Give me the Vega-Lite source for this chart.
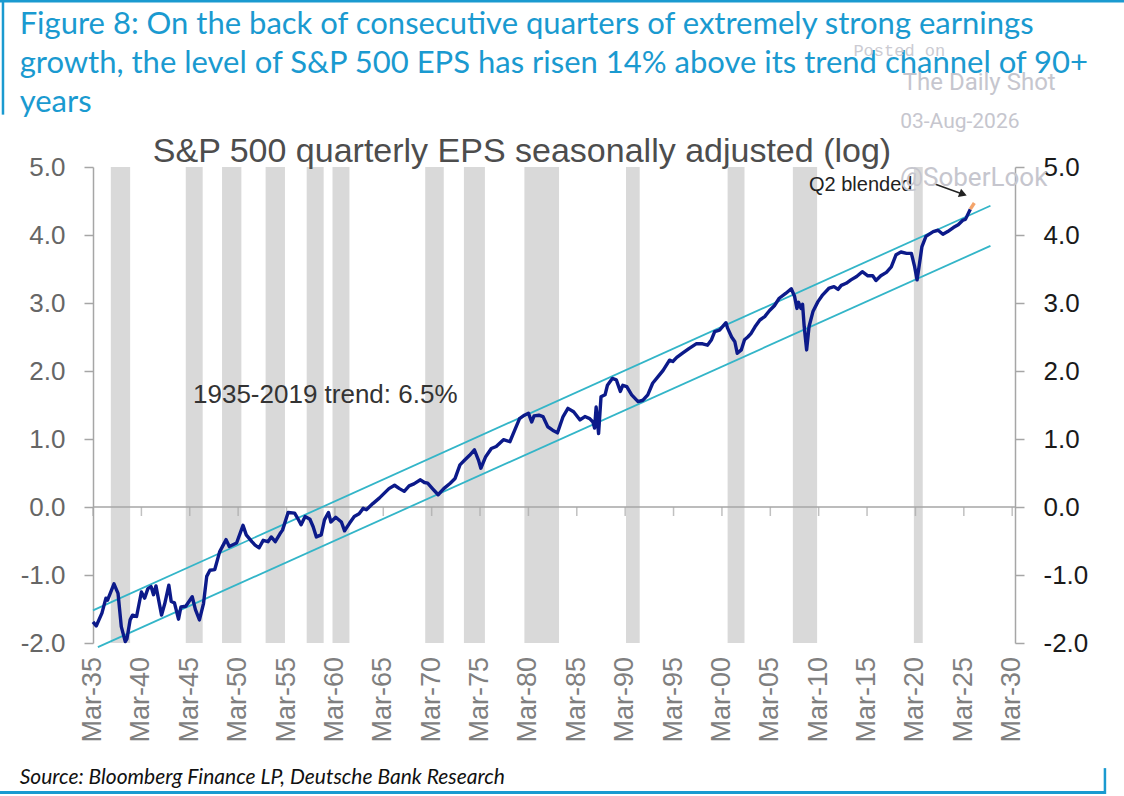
{
  "$schema": "https://vega.github.io/schema/vega-lite/v6.json",
  "width": 922,
  "height": 476,
  "autosize": "none",
  "padding": {"left": 93, "top": 167, "right": 109, "bottom": 153},
  "background": "white",
  "config": {"view": {"stroke": null}, "font": "Liberation Sans"},
  "datasets": {
    "recessions": [
      {"start": "1937-01-01", "end": "1939-01-01"},
      {"start": "1944-10-01", "end": "1946-07-01"},
      {"start": "1948-07-01", "end": "1950-07-01"},
      {"start": "1953-01-01", "end": "1955-01-01"},
      {"start": "1957-04-01", "end": "1959-01-01"},
      {"start": "1959-12-01", "end": "1961-09-01"},
      {"start": "1969-07-01", "end": "1971-06-01"},
      {"start": "1973-07-01", "end": "1975-09-01"},
      {"start": "1979-10-01", "end": "1983-05-01"},
      {"start": "1990-04-01", "end": "1991-09-01"},
      {"start": "2000-10-01", "end": "2002-07-01"},
      {"start": "2007-07-01", "end": "2010-01-01"},
      {"start": "2020-01-01", "end": "2020-12-01"}
    ],
    "xticks": [
      {"date": "1935-03-01", "label": "Mar-35"}, {"date": "1940-03-01", "label": "Mar-40"},
      {"date": "1945-03-01", "label": "Mar-45"}, {"date": "1950-03-01", "label": "Mar-50"},
      {"date": "1955-03-01", "label": "Mar-55"}, {"date": "1960-03-01", "label": "Mar-60"},
      {"date": "1965-03-01", "label": "Mar-65"}, {"date": "1970-03-01", "label": "Mar-70"},
      {"date": "1975-03-01", "label": "Mar-75"}, {"date": "1980-03-01", "label": "Mar-80"},
      {"date": "1985-03-01", "label": "Mar-85"}, {"date": "1990-03-01", "label": "Mar-90"},
      {"date": "1995-03-01", "label": "Mar-95"}, {"date": "2000-03-01", "label": "Mar-00"},
      {"date": "2005-03-01", "label": "Mar-05"}, {"date": "2010-03-01", "label": "Mar-10"},
      {"date": "2015-03-01", "label": "Mar-15"}, {"date": "2020-03-01", "label": "Mar-20"},
      {"date": "2025-03-01", "label": "Mar-25"}, {"date": "2030-03-01", "label": "Mar-30"}
    ],
    "trend": [
      {"date": "1935-03-01", "value": -1.52, "band": "upper"},
      {"date": "2027-12-01", "value": 4.43, "band": "upper"},
      {"date": "1935-09-01", "value": -2.06, "band": "lower"},
      {"date": "2027-12-01", "value": 3.84, "band": "lower"}
    ],
    "eps": [
      {"date": "1935-03-01", "value": -1.69},
      {"date": "1935-07-01", "value": -1.75},
      {"date": "1936-02-01", "value": -1.56},
      {"date": "1936-07-01", "value": -1.34},
      {"date": "1936-09-01", "value": -1.37},
      {"date": "1937-05-01", "value": -1.13},
      {"date": "1937-10-01", "value": -1.27},
      {"date": "1938-02-01", "value": -1.76},
      {"date": "1938-07-01", "value": -1.98},
      {"date": "1938-09-01", "value": -1.94},
      {"date": "1939-01-01", "value": -1.66},
      {"date": "1939-04-01", "value": -1.59},
      {"date": "1939-09-01", "value": -1.61},
      {"date": "1940-03-01", "value": -1.25},
      {"date": "1940-07-01", "value": -1.34},
      {"date": "1940-11-01", "value": -1.2},
      {"date": "1941-03-01", "value": -1.17},
      {"date": "1941-06-01", "value": -1.29},
      {"date": "1941-09-01", "value": -1.16},
      {"date": "1942-04-01", "value": -1.59},
      {"date": "1942-08-01", "value": -1.42},
      {"date": "1943-01-01", "value": -1.15},
      {"date": "1943-04-01", "value": -1.39},
      {"date": "1943-08-01", "value": -1.41},
      {"date": "1944-01-01", "value": -1.65},
      {"date": "1944-04-01", "value": -1.47},
      {"date": "1944-10-01", "value": -1.46},
      {"date": "1945-06-01", "value": -1.32},
      {"date": "1945-10-01", "value": -1.51},
      {"date": "1946-03-01", "value": -1.66},
      {"date": "1946-08-01", "value": -1.42},
      {"date": "1946-12-01", "value": -1.02},
      {"date": "1947-04-01", "value": -0.93},
      {"date": "1947-10-01", "value": -0.92},
      {"date": "1948-04-01", "value": -0.66},
      {"date": "1948-12-01", "value": -0.48},
      {"date": "1949-04-01", "value": -0.58},
      {"date": "1950-01-01", "value": -0.53},
      {"date": "1950-09-01", "value": -0.27},
      {"date": "1951-01-01", "value": -0.41},
      {"date": "1951-08-01", "value": -0.51},
      {"date": "1951-12-01", "value": -0.56},
      {"date": "1952-05-01", "value": -0.6},
      {"date": "1952-10-01", "value": -0.49},
      {"date": "1953-04-01", "value": -0.51},
      {"date": "1953-08-01", "value": -0.44},
      {"date": "1954-01-01", "value": -0.51},
      {"date": "1954-07-01", "value": -0.39},
      {"date": "1954-10-01", "value": -0.34},
      {"date": "1955-05-01", "value": -0.08},
      {"date": "1956-01-01", "value": -0.09},
      {"date": "1956-05-01", "value": -0.17},
      {"date": "1956-09-01", "value": -0.26},
      {"date": "1957-02-01", "value": -0.14},
      {"date": "1957-08-01", "value": -0.18},
      {"date": "1957-12-01", "value": -0.29},
      {"date": "1958-04-01", "value": -0.44},
      {"date": "1958-10-01", "value": -0.41},
      {"date": "1959-02-01", "value": -0.19},
      {"date": "1959-07-01", "value": -0.08},
      {"date": "1959-10-01", "value": -0.22},
      {"date": "1960-04-01", "value": -0.15},
      {"date": "1960-11-01", "value": -0.22},
      {"date": "1961-03-01", "value": -0.35},
      {"date": "1961-09-01", "value": -0.24},
      {"date": "1962-03-01", "value": -0.14},
      {"date": "1962-09-01", "value": -0.1},
      {"date": "1963-02-01", "value": -0.02},
      {"date": "1963-06-01", "value": -0.04},
      {"date": "1964-02-01", "value": 0.05},
      {"date": "1964-10-01", "value": 0.13},
      {"date": "1965-04-01", "value": 0.2},
      {"date": "1965-10-01", "value": 0.27},
      {"date": "1966-05-01", "value": 0.32},
      {"date": "1966-11-01", "value": 0.27},
      {"date": "1967-05-01", "value": 0.23},
      {"date": "1967-11-01", "value": 0.31},
      {"date": "1968-05-01", "value": 0.34},
      {"date": "1969-01-01", "value": 0.4},
      {"date": "1969-06-01", "value": 0.36},
      {"date": "1969-10-01", "value": 0.35},
      {"date": "1970-04-01", "value": 0.27},
      {"date": "1970-11-01", "value": 0.18},
      {"date": "1971-06-01", "value": 0.27},
      {"date": "1972-02-01", "value": 0.35},
      {"date": "1972-08-01", "value": 0.42},
      {"date": "1973-02-01", "value": 0.62},
      {"date": "1973-08-01", "value": 0.69},
      {"date": "1974-02-01", "value": 0.76},
      {"date": "1974-08-01", "value": 0.84},
      {"date": "1975-01-01", "value": 0.69},
      {"date": "1975-04-01", "value": 0.57},
      {"date": "1975-10-01", "value": 0.74},
      {"date": "1976-05-01", "value": 0.86},
      {"date": "1976-11-01", "value": 0.89},
      {"date": "1977-08-01", "value": 0.99},
      {"date": "1978-04-01", "value": 0.96},
      {"date": "1978-10-01", "value": 1.13},
      {"date": "1979-04-01", "value": 1.3},
      {"date": "1979-10-01", "value": 1.35},
      {"date": "1980-03-01", "value": 1.38},
      {"date": "1980-07-01", "value": 1.25},
      {"date": "1980-10-01", "value": 1.34},
      {"date": "1981-04-01", "value": 1.35},
      {"date": "1981-09-01", "value": 1.33},
      {"date": "1982-03-01", "value": 1.18},
      {"date": "1982-09-01", "value": 1.13},
      {"date": "1983-03-01", "value": 1.09},
      {"date": "1983-10-01", "value": 1.33},
      {"date": "1984-04-01", "value": 1.45},
      {"date": "1984-11-01", "value": 1.4},
      {"date": "1985-07-01", "value": 1.28},
      {"date": "1986-01-01", "value": 1.33},
      {"date": "1986-07-01", "value": 1.3},
      {"date": "1986-11-01", "value": 1.25},
      {"date": "1987-01-01", "value": 1.16},
      {"date": "1987-03-01", "value": 1.47},
      {"date": "1987-06-01", "value": 1.08},
      {"date": "1987-09-01", "value": 1.62},
      {"date": "1988-02-01", "value": 1.65},
      {"date": "1988-05-01", "value": 1.79},
      {"date": "1988-11-01", "value": 1.89},
      {"date": "1989-04-01", "value": 1.87},
      {"date": "1989-09-01", "value": 1.7},
      {"date": "1989-12-01", "value": 1.79},
      {"date": "1990-05-01", "value": 1.77},
      {"date": "1990-11-01", "value": 1.65},
      {"date": "1991-07-01", "value": 1.55},
      {"date": "1992-01-01", "value": 1.57},
      {"date": "1992-07-01", "value": 1.65},
      {"date": "1993-01-01", "value": 1.82},
      {"date": "1993-08-01", "value": 1.92},
      {"date": "1994-02-01", "value": 2.01},
      {"date": "1994-10-01", "value": 2.16},
      {"date": "1995-02-01", "value": 2.14},
      {"date": "1995-07-01", "value": 2.2},
      {"date": "1996-03-01", "value": 2.27},
      {"date": "1996-10-01", "value": 2.33},
      {"date": "1997-07-01", "value": 2.4},
      {"date": "1998-03-01", "value": 2.4},
      {"date": "1998-09-01", "value": 2.38},
      {"date": "1999-02-01", "value": 2.46},
      {"date": "1999-06-01", "value": 2.58},
      {"date": "1999-12-01", "value": 2.6},
      {"date": "2000-08-01", "value": 2.71},
      {"date": "2000-10-01", "value": 2.63},
      {"date": "2001-03-01", "value": 2.5},
      {"date": "2001-07-01", "value": 2.43},
      {"date": "2001-10-01", "value": 2.26},
      {"date": "2002-03-01", "value": 2.31},
      {"date": "2002-07-01", "value": 2.46},
      {"date": "2002-11-01", "value": 2.5},
      {"date": "2003-03-01", "value": 2.55},
      {"date": "2003-08-01", "value": 2.65},
      {"date": "2004-02-01", "value": 2.75},
      {"date": "2004-08-01", "value": 2.8},
      {"date": "2005-02-01", "value": 2.89},
      {"date": "2005-08-01", "value": 2.96},
      {"date": "2006-02-01", "value": 3.07},
      {"date": "2006-10-01", "value": 3.14},
      {"date": "2007-05-01", "value": 3.21},
      {"date": "2007-09-01", "value": 3.1},
      {"date": "2007-12-01", "value": 2.92},
      {"date": "2008-02-01", "value": 3.01},
      {"date": "2008-05-01", "value": 2.92},
      {"date": "2008-07-01", "value": 2.98},
      {"date": "2008-09-01", "value": 2.65},
      {"date": "2008-12-01", "value": 2.31},
      {"date": "2009-03-01", "value": 2.65},
      {"date": "2009-08-01", "value": 2.88},
      {"date": "2010-02-01", "value": 3.02},
      {"date": "2010-08-01", "value": 3.12},
      {"date": "2011-04-01", "value": 3.22},
      {"date": "2011-10-01", "value": 3.24},
      {"date": "2012-03-01", "value": 3.2},
      {"date": "2012-07-01", "value": 3.26},
      {"date": "2013-01-01", "value": 3.29},
      {"date": "2013-07-01", "value": 3.34},
      {"date": "2014-02-01", "value": 3.39},
      {"date": "2014-09-01", "value": 3.46},
      {"date": "2015-04-01", "value": 3.4},
      {"date": "2015-10-01", "value": 3.4},
      {"date": "2016-02-01", "value": 3.33},
      {"date": "2016-08-01", "value": 3.4},
      {"date": "2017-03-01", "value": 3.45},
      {"date": "2017-09-01", "value": 3.53},
      {"date": "2018-03-01", "value": 3.71},
      {"date": "2018-09-01", "value": 3.75},
      {"date": "2019-04-01", "value": 3.73},
      {"date": "2019-10-01", "value": 3.73},
      {"date": "2020-02-01", "value": 3.53},
      {"date": "2020-05-01", "value": 3.34},
      {"date": "2020-08-01", "value": 3.58},
      {"date": "2020-11-01", "value": 3.83},
      {"date": "2021-04-01", "value": 3.98},
      {"date": "2022-01-01", "value": 4.05},
      {"date": "2022-07-01", "value": 4.07},
      {"date": "2023-01-01", "value": 4.01},
      {"date": "2023-07-01", "value": 4.05},
      {"date": "2024-02-01", "value": 4.11},
      {"date": "2024-08-01", "value": 4.15},
      {"date": "2025-02-01", "value": 4.22},
      {"date": "2025-05-01", "value": 4.23},
      {"date": "2025-11-01", "value": 4.38}
    ],
    "q2": [
      {"date": "2025-11-01", "value": 4.38},
      {"date": "2026-04-01", "value": 4.47}
    ],
    "one": [{}]
  },
  "resolve": {"axis": {"y": "independent"}},
  "layer": [
    {
      "data": {"name": "recessions"},
      "mark": {"type": "rect", "color": "#d9d9d9"},
      "encoding": {
        "x": {
          "field": "start",
          "type": "temporal",
          "scale": {"domain": [{"year": 1935, "month": 3, "date": 1}, {"year": 2030, "month": 6, "date": 15}]},
          "axis": null
        },
        "x2": {"field": "end"}
      }
    },
    {
      "data": {"name": "one"},
      "mark": {"type": "rule", "color": "#a6a6a6", "strokeWidth": 1.5},
      "encoding": {
        "y": {"datum": 0, "type": "quantitative", "axis": null}
      }
    },
    {
      "data": {"name": "xticks"},
      "mark": {"type": "tick", "orient": "vertical", "color": "#a6a6a6", "thickness": 1.5, "size": 9, "yOffset": 4.5},
      "encoding": {
        "x": {"field": "date", "type": "temporal", "axis": null},
        "y": {"datum": 0, "type": "quantitative", "axis": null}
      }
    },
    {
      "data": {"name": "xticks"},
      "mark": {"type": "text", "angle": 270, "align": "right", "baseline": "middle", "dx": -14, "fontSize": 27, "color": "#7f7f7f", "font": "Liberation Sans"},
      "encoding": {
        "x": {"field": "date", "type": "temporal", "axis": null},
        "y": {"datum": -2, "type": "quantitative", "axis": null},
        "text": {"field": "label"}
      }
    },
    {
      "data": {"name": "trend"},
      "mark": {"type": "line", "color": "#33b5c8", "strokeWidth": 1.8},
      "encoding": {
        "x": {"field": "date", "type": "temporal", "axis": null},
        "y": {
          "field": "value",
          "type": "quantitative",
          "scale": {"domain": [-2, 5], "nice": false, "zero": false},
          "axis": {
            "orient": "right",
            "title": null,
            "values": [-2, -1, 0, 1, 2, 3, 4, 5],
            "labelExpr": "datum.value < 0 ? '-' + format(-datum.value, '.1f') : format(datum.value, '.1f')",
            "grid": false,
            "domainColor": "#a6a6a6",
            "domainWidth": 1.5,
            "tickColor": "#a6a6a6",
            "tickWidth": 1.5,
            "tickSize": 9,
            "labelPadding": 19,
            "labelFontSize": 26,
            "labelColor": "#1a1a1a",
            "labelFont": "Liberation Sans"
          }
        },
        "detail": {"field": "band"}
      }
    },
    {
      "data": {"name": "eps"},
      "mark": {"type": "line", "color": "#0c1a8a", "strokeWidth": 3.4, "strokeJoin": "round"},
      "encoding": {
        "x": {"field": "date", "type": "temporal", "axis": null},
        "y": {
          "field": "value",
          "type": "quantitative",
          "scale": {"domain": [-2, 5], "nice": false, "zero": false},
          "axis": {
            "orient": "left",
            "title": null,
            "values": [-2, -1, 0, 1, 2, 3, 4, 5],
            "labelExpr": "datum.value < 0 ? '-' + format(-datum.value, '.1f') : format(datum.value, '.1f')",
            "grid": false,
            "domainColor": "#a6a6a6",
            "domainWidth": 1.5,
            "tickColor": "#a6a6a6",
            "tickWidth": 1.5,
            "tickSize": 9,
            "labelPadding": 19,
            "labelFontSize": 26,
            "labelColor": "#666666",
            "labelFont": "Liberation Sans"
          }
        }
      }
    },
    {
      "data": {"name": "q2"},
      "mark": {"type": "line", "color": "#f4a46a", "strokeWidth": 3.4},
      "encoding": {
        "x": {"field": "date", "type": "temporal", "axis": null},
        "y": {"field": "value", "type": "quantitative", "axis": null}
      }
    },
    {
      "data": {"name": "one"},
      "mark": {"type": "rule", "color": "#222222", "strokeWidth": 1.5},
      "encoding": {
        "x": {"datum": {"year": 2022, "month": 3, "date": 1}, "type": "temporal", "axis": null},
        "y": {"datum": 4.75, "type": "quantitative", "axis": null},
        "x2": {"datum": {"year": 2025, "month": 2, "date": 1}},
        "y2": {"datum": 4.6}
      }
    },
    {
      "data": {"name": "one"},
      "mark": {"type": "point", "shape": "triangle-right", "filled": true, "color": "#222222", "size": 80, "angle": 21, "opacity": 1},
      "encoding": {
        "x": {"datum": {"year": 2025, "month": 2, "date": 1}, "type": "temporal", "axis": null},
        "y": {"datum": 4.6, "type": "quantitative", "axis": null}
      }
    },
    {
      "data": {"name": "one"},
      "mark": {"type": "rule", "color": "#1a9ad0", "strokeWidth": 3},
      "encoding": {
        "x": {"datum": {"year": 1925, "month": 6, "date": 1}, "type": "temporal", "axis": null},
        "x2": {"datum": {"year": 2042, "month": 1, "date": 1}},
        "y": {"datum": 7.44, "type": "quantitative", "axis": null}
      }
    },
    {
      "data": {"name": "one"},
      "mark": {"type": "rule", "color": "#1a9ad0", "strokeWidth": 2.5},
      "encoding": {
        "x": {"datum": {"year": 1925, "month": 11, "date": 10}, "type": "temporal", "axis": null},
        "y": {"datum": 7.46, "type": "quantitative", "axis": null},
        "y2": {"datum": 5.77}
      }
    },
    {
      "data": {"name": "one"},
      "mark": {"type": "rule", "color": "#1a9ad0", "strokeWidth": 3},
      "encoding": {
        "x": {"datum": {"year": 1925, "month": 6, "date": 1}, "type": "temporal", "axis": null},
        "x2": {"datum": {"year": 2039, "month": 10, "date": 1}},
        "y": {"datum": -4.2, "type": "quantitative", "axis": null}
      }
    },
    {
      "data": {"name": "one"},
      "mark": {"type": "rule", "color": "#1a9ad0", "strokeWidth": 2.5},
      "encoding": {
        "x": {"datum": {"year": 2039, "month": 10, "date": 1}, "type": "temporal", "axis": null},
        "y": {"datum": -4.22, "type": "quantitative", "axis": null},
        "y2": {"datum": -3.84}
      }
    },
    {
      "data": {"name": "one"},
      "mark": {"type": "text", "text": "1935-2019 trend: 6.5%", "align": "left", "baseline": "middle", "fontSize": 26, "color": "#333333", "font": "Liberation Sans"},
      "encoding": {
        "x": {"datum": {"year": 1945, "month": 7, "date": 1}, "type": "temporal", "axis": null},
        "y": {"datum": 1.65, "type": "quantitative", "axis": null}
      }
    },
    {
      "data": {"name": "one"},
      "mark": {"type": "text", "text": "Q2 blended", "align": "left", "baseline": "middle", "fontSize": 20, "color": "#222222", "font": "Liberation Sans"},
      "encoding": {
        "x": {"datum": {"year": 2009, "month": 3, "date": 1}, "type": "temporal", "axis": null},
        "y": {"datum": 4.74, "type": "quantitative", "axis": null}
      }
    },
    {
      "data": {"name": "one"},
      "mark": {"type": "text", "text": "S&P 500 quarterly EPS seasonally adjusted (log)", "align": "center", "baseline": "middle", "fontSize": 34, "color": "#4d4d4d", "font": "Liberation Sans"},
      "encoding": {
        "x": {"datum": {"year": 1979, "month": 7, "date": 1}, "type": "temporal", "axis": null},
        "y": {"datum": 5.22, "type": "quantitative", "axis": null}
      }
    },
    {
      "data": {"name": "one"},
      "mark": {
        "type": "text",
        "text": [
          "Figure 8: On the back of consecutive quarters of extremely strong earnings",
          "growth, the level of S&P 500 EPS has risen 14% above its trend channel of 90+",
          "years"
        ],
        "align": "left",
        "baseline": "alphabetic",
        "lineHeight": 39,
        "fontSize": 31,
        "color": "#1a9ad0",
        "font": "Lato"
      },
      "encoding": {
        "x": {"datum": {"year": 1927, "month": 8, "date": 1}, "type": "temporal", "axis": null},
        "y": {"datum": 6.95, "type": "quantitative", "axis": null}
      }
    },
    {
      "data": {"name": "one"},
      "mark": {"type": "text", "text": "Source: Bloomberg Finance LP, Deutsche Bank Research", "align": "left", "baseline": "alphabetic", "fontSize": 21, "fontStyle": "italic", "color": "#111111", "font": "Lato"},
      "encoding": {
        "x": {"datum": {"year": 1927, "month": 8, "date": 1}, "type": "temporal", "axis": null},
        "y": {"datum": -4.08, "type": "quantitative", "axis": null}
      }
    },
    {
      "data": {"name": "one"},
      "mark": {"type": "text", "text": "Posted on", "align": "center", "baseline": "middle", "fontSize": 17, "color": "#cbcbd2", "font": "Liberation Mono"},
      "encoding": {
        "x": {"datum": {"year": 2018, "month": 7, "date": 1}, "type": "temporal", "axis": null},
        "y": {"datum": 6.71, "type": "quantitative", "axis": null}
      }
    },
    {
      "data": {"name": "one"},
      "mark": {"type": "text", "text": "The Daily Shot", "align": "center", "baseline": "middle", "fontSize": 24, "color": "#c6c6ce", "font": "Roboto"},
      "encoding": {
        "x": {"datum": {"year": 2026, "month": 10, "date": 1}, "type": "temporal", "axis": null},
        "y": {"datum": 6.24, "type": "quantitative", "axis": null}
      }
    },
    {
      "data": {"name": "one"},
      "mark": {"type": "text", "text": "03-Aug-2026", "align": "center", "baseline": "middle", "fontSize": 21, "color": "#c6c6ce", "font": "Roboto"},
      "encoding": {
        "x": {"datum": {"year": 2024, "month": 10, "date": 1}, "type": "temporal", "axis": null},
        "y": {"datum": 5.66, "type": "quantitative", "axis": null}
      }
    },
    {
      "data": {"name": "one"},
      "mark": {"type": "text", "text": "@SoberLook", "align": "center", "baseline": "middle", "fontSize": 26, "color": "#c6c6ce", "font": "Roboto"},
      "encoding": {
        "x": {"datum": {"year": 2026, "month": 3, "date": 1}, "type": "temporal", "axis": null},
        "y": {"datum": 4.84, "type": "quantitative", "axis": null}
      }
    }
  ]
}
